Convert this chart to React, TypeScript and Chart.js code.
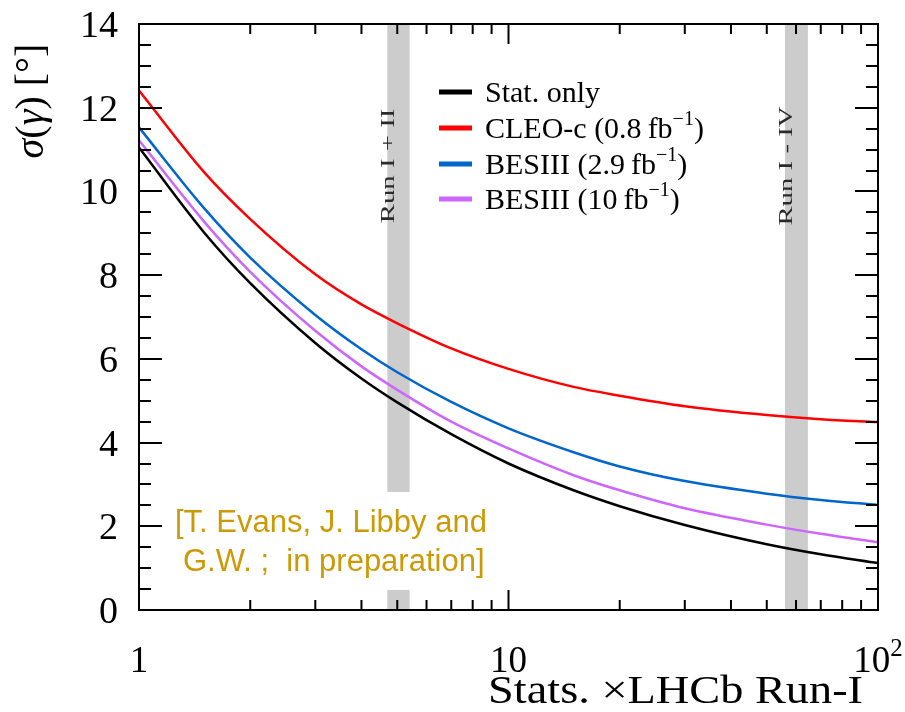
import React, { useEffect, useRef } from 'react';
import { Chart, registerables } from 'chart.js';
Chart.register(...registerables);

// ---- data ----
const xValues = [1, 1.5, 2, 3, 4, 5, 7, 10, 15, 20, 30, 50, 70, 100];
const statOnly = [11.05, 9.02, 7.81, 6.38, 5.53, 4.96, 4.2, 3.5, 2.86, 2.48, 2.03, 1.57, 1.33, 1.12];
const cleoC = [12.41, 10.46, 9.34, 8.02, 7.3, 6.85, 6.25, 5.76, 5.33, 5.12, 4.87, 4.66, 4.56, 4.49];
const besiii29 = [11.53, 9.6, 8.42, 7.05, 6.23, 5.68, 4.97, 4.34, 3.77, 3.43, 3.08, 2.78, 2.63, 2.51];
const besiii10 = [11.22, 9.28, 8.08, 6.67, 5.82, 5.26, 4.5, 3.86, 3.22, 2.86, 2.43, 2.04, 1.82, 1.62];

const seriesLabels = ['Stat. only', 'CLEO-c (0.8\u2009fb^{\u22121})', 'BESIII (2.9\u2009fb^{\u22121})', 'BESIII (10\u2009fb^{\u22121})'];
const seriesColors = ['#000000', '#FF0000', '#0066CC', '#CC66FF'];

const bandLabels = ['Run I + II', 'Run I - IV'];
const bandFrom = [4.7, 56];
const bandTo = [5.4, 64.6];

const yMajorTicks = [0, 2, 4, 6, 8, 10, 12, 14];
const yTickLabels = ['0', '2', '4', '6', '8', '10', '12', '14'];
const xMajorTicks = [1, 10, 100];
const xTickLabels = ['1', '10', '10^{2}'];
const xMinorTicks = [2, 3, 4, 5, 6, 7, 8, 9, 20, 30, 40, 50, 60, 70, 80, 90];

const xTitle = 'Stats. \u00d7LHCb Run-I';
const annotationLines = ['[T. Evans, J. Libby and', 'G.W. ;  in preparation]'];

const SERIF = '"Liberation Serif", "DejaVu Serif", serif';
const SANS = '"Liberation Sans", Arial, sans-serif';

function drawRich(ctx: CanvasRenderingContext2D, text: string, x: number, y: number, size: number, family: string, align: 'left' | 'right' | 'center', hscale = 1) {
  const parts: { t: string; sup: boolean }[] = [];
  const re = /\^\{([^}]*)\}/g;
  let last = 0;
  let m: RegExpExecArray | null;
  while ((m = re.exec(text))) {
    if (m.index > last) parts.push({ t: text.slice(last, m.index), sup: false });
    parts.push({ t: m[1], sup: true });
    last = m.index + m[0].length;
  }
  if (last < text.length) parts.push({ t: text.slice(last), sup: false });
  const fontFor = (sup: boolean) => `${Math.round(sup ? size * 0.68 : size)}px ${family}`;
  let total = 0;
  for (const p of parts) {
    ctx.font = fontFor(p.sup);
    total += ctx.measureText(p.t).width;
  }
  ctx.save();
  ctx.translate(x, y);
  ctx.scale(hscale, 1);
  let cx = align === 'left' ? 0 : align === 'right' ? -total : -total / 2;
  ctx.textAlign = 'left';
  ctx.textBaseline = 'alphabetic';
  for (const p of parts) {
    ctx.font = fontFor(p.sup);
    ctx.fillText(p.t, cx, p.sup ? -size * 0.42 : 0);
    cx += ctx.measureText(p.t).width;
  }
  ctx.restore();
}

const backgroundPlugin = {
  id: 'bg',
  beforeDatasetsDraw(chart: any) {
    const { ctx, chartArea, scales } = chart;
    const xs = scales.x;
    const ys = scales.y;
    ctx.save();
    ctx.fillStyle = '#CCCCCC';
    for (let i = 0; i < bandFrom.length; i++) {
      const x0 = xs.getPixelForValue(bandFrom[i]);
      const x1 = xs.getPixelForValue(bandTo[i]);
      ctx.fillRect(x0, chartArea.top, x1 - x0, chartArea.bottom - chartArea.top);
    }
    // annotation box (white background)
    const bx0 = xs.getPixelForValue(1.35);
    const bx1 = xs.getPixelForValue(9.8);
    const by0 = ys.getPixelForValue(2.82);
    const by1 = ys.getPixelForValue(0.48);
    ctx.fillStyle = '#FFFFFF';
    ctx.fillRect(bx0, by0, bx1 - bx0, by1 - by0);
    ctx.fillStyle = '#CC9A06';
    ctx.font = `31px ${SANS}`;
    ctx.textAlign = 'left';
    ctx.textBaseline = 'alphabetic';
    ctx.fillText(annotationLines[0], 175, 532);
    ctx.fillText(annotationLines[1], 183, 571);

    // band labels (rotated)
    ctx.fillStyle = '#2a2a2a';
    for (let i = 0; i < bandLabels.length; i++) {
      const xc = (xs.getPixelForValue(bandFrom[i]) + xs.getPixelForValue(bandTo[i])) / 2;
      ctx.save();
      ctx.translate(xc - 4, 166);
      ctx.rotate(-Math.PI / 2);
      ctx.scale(1.6, 1);
      ctx.font = `18px ${SERIF}`;
      ctx.textAlign = 'center';
      ctx.textBaseline = 'alphabetic';
      ctx.fillText(bandLabels[i], 0, 0);
      ctx.restore();
    }
    ctx.restore();
  },
  afterDraw(chart: any) {
    const { ctx, chartArea, scales } = chart;
    const xs = scales.x;
    const ys = scales.y;
    const { left, right, top, bottom } = chartArea;
    ctx.save();
    ctx.strokeStyle = '#000';
    ctx.lineWidth = 2;
    ctx.strokeRect(left, top, right - left, bottom - top);
    ctx.beginPath();
    for (let v = 0; v <= 14.001; v += 0.5) {
      const py = Math.round(ys.getPixelForValue(v));
      const len = yMajorTicks.includes(v) ? 23 : 12;
      ctx.moveTo(left, py);
      ctx.lineTo(left + len, py);
      ctx.moveTo(right, py);
      ctx.lineTo(right - len, py);
    }
    for (const t of xMinorTicks) {
      const px = xs.getPixelForValue(t);
      ctx.moveTo(px, bottom);
      ctx.lineTo(px, bottom - 10);
      ctx.moveTo(px, top);
      ctx.lineTo(px, top + 10);
    }
    for (const t of xMajorTicks) {
      const px = xs.getPixelForValue(t);
      ctx.moveTo(px, bottom);
      ctx.lineTo(px, bottom - 20);
      ctx.moveTo(px, top);
      ctx.lineTo(px, top + 20);
    }
    ctx.stroke();

    // tick labels
    ctx.fillStyle = '#000';
    for (let i = 0; i < yMajorTicks.length; i++) {
      const py = ys.getPixelForValue(yMajorTicks[i]);
      drawRich(ctx, yTickLabels[i], 118, py + 13, 38, SERIF, 'right');
    }
    for (let i = 0; i < xMajorTicks.length; i++) {
      const px = xs.getPixelForValue(xMajorTicks[i]);
      drawRich(ctx, xTickLabels[i], px, 672, 37, SERIF, 'center');
    }
    // axis titles
    drawRich(ctx, xTitle, 863, 703, 41, SERIF, 'right', 1.13);
    ctx.save();
    ctx.translate(43, 101);
    ctx.rotate(-Math.PI / 2);
    const s = 40;
    const segs: [string, string][] = [['\u03c3', 'italic '], ['(', ''], ['\u03b3', 'italic '], [') [', ''], ['\u00b0', ''], [']', '']];
    let tw = 0;
    for (const [t, st] of segs) {
      ctx.font = `${st}${s}px ${SERIF}`;
      tw += ctx.measureText(t).width;
    }
    let cx = -tw / 2;
    ctx.textAlign = 'left';
    ctx.textBaseline = 'alphabetic';
    for (const [t, st] of segs) {
      ctx.font = `${st}${s}px ${SERIF}`;
      ctx.fillText(t, cx, 0);
      cx += ctx.measureText(t).width;
    }
    ctx.restore();

    // legend
    const rows = [92, 128, 164, 199];
    for (let i = 0; i < seriesLabels.length; i++) {
      ctx.strokeStyle = seriesColors[i];
      ctx.lineWidth = 5;
      ctx.beginPath();
      ctx.moveTo(439, rows[i]);
      ctx.lineTo(472, rows[i]);
      ctx.stroke();
      ctx.fillStyle = '#000';
      drawRich(ctx, seriesLabels[i], 485, rows[i] + 10, 30, SERIF, 'left');
    }
    ctx.restore();
  },
};

export default function App() {
  const ref = useRef<HTMLCanvasElement | null>(null);
  useEffect(() => {
    if (!ref.current) return;
    const series = [statOnly, cleoC, besiii29, besiii10];
    const chart = new Chart(ref.current, {
      type: 'line',
      data: {
        datasets: series.map((vals, i) => ({
          label: seriesLabels[i],
          data: xValues.map((x, j) => ({ x, y: vals[j] })),
          borderColor: seriesColors[i],
          borderWidth: 2.5,
          pointRadius: 0,
          cubicInterpolationMode: 'monotone' as const,
          fill: false,
        })),
      },
      options: {
        animation: false,
        responsive: false,
        maintainAspectRatio: false,
        layout: { padding: { left: 139, right: 27, top: 24, bottom: 102 } },
        plugins: { legend: { display: false }, tooltip: { enabled: false } },
        scales: {
          x: { type: 'logarithmic', min: 1, max: 100, display: false },
          y: { type: 'linear', min: 0, max: 14, display: false },
        },
      },
      plugins: [backgroundPlugin],
    });
    return () => chart.destroy();
  }, []);
  return (
    <div style={{ position: 'absolute', left: 0, top: 0, width: 905, height: 712, background: '#fff' }}>
      <canvas ref={ref} width={905} height={712} style={{ width: 905, height: 712, display: 'block' }} />
    </div>
  );
}
